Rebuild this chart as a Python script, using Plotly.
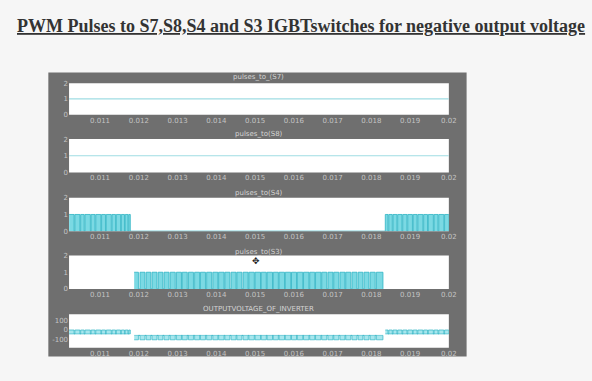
import plotly.graph_objects as go

# ---- data -------------------------------------------------------------
x_ticks = [0.011, 0.012, 0.013, 0.014, 0.015, 0.016, 0.017, 0.018, 0.019, 0.02]
x_tick_text = ["0.011", "0.012", "0.013", "0.014", "0.015", "0.016", "0.017", "0.018", "0.019", "0.02"]
t_start, t_end = 0.0102, 0.02

panel_titles = ["pulses_to_(S7)", "pulses_to(S8)", "pulses_to(S4)", "pulses_to(S3)",
                "OUTPUTVOLTAGE_OF_INVERTER"]

# S7 and S8 stay on for the whole window
s7_level = [1, 1]
s8_level = [1, 1]

# S4 gate pulses (rising / falling edge times)
s4_rise = [0.01020, 0.01035, 0.01050, 0.01061, 0.01077, 0.01089, 0.01104, 0.01116, 0.01131,
           0.01142, 0.01155, 0.01165, 0.01174,
           0.01836, 0.01845, 0.01856, 0.01868, 0.01881, 0.01894, 0.01908, 0.01920, 0.01935,
           0.01947, 0.01962, 0.01974, 0.01989]
s4_fall = [0.01033, 0.01048, 0.01059, 0.01075, 0.01087, 0.01102, 0.01114, 0.01129, 0.01140,
           0.01153, 0.01163, 0.01172, 0.01178,
           0.01843, 0.01854, 0.01866, 0.01879, 0.01892, 0.01906, 0.01918, 0.01933, 0.01945,
           0.01960, 0.01972, 0.01987, 0.02000]

# S3 gate pulses (rising / falling edge times)
s3_rise = [0.01188, 0.01203, 0.01219, 0.01234, 0.01250, 0.01265, 0.01281, 0.01297, 0.01312,
           0.01328, 0.01344, 0.01359, 0.01375, 0.01391, 0.01406, 0.01422, 0.01438, 0.01453,
           0.01469, 0.01484, 0.01500, 0.01516, 0.01531, 0.01547, 0.01562, 0.01578, 0.01594,
           0.01609, 0.01625, 0.01641, 0.01656, 0.01672, 0.01688, 0.01703, 0.01719, 0.01734,
           0.01750, 0.01766, 0.01781, 0.01797, 0.01813]
s3_fall = [0.01199, 0.01216, 0.01231, 0.01247, 0.01262, 0.01278, 0.01294, 0.01310, 0.01325,
           0.01341, 0.01357, 0.01372, 0.01388, 0.01404, 0.01420, 0.01435, 0.01451, 0.01466,
           0.01482, 0.01498, 0.01514, 0.01529, 0.01545, 0.01560, 0.01576, 0.01592, 0.01607,
           0.01623, 0.01639, 0.01654, 0.01670, 0.01685, 0.01701, 0.01716, 0.01732, 0.01747,
           0.01763, 0.01778, 0.01794, 0.01810, 0.01830]

# inverter output levels (V) while S4 / S3 are switching
vout_s4_high, vout_s4_low = 0, -40
vout_s3_high, vout_s3_low = -100, -55
vout_ticks = [100, 0, -100]
vout_tick_text = ["100", "0", "-100"]

# ---- layout helpers ---------------------------------------------------
W, H = 592, 381
PLOT_L, PLOT_R = 70, 455
ROWS = [(81, 113), (138, 172), (198, 232), (257, 291), (317, 351)]
TITLE_Y = [75, 133, 193, 253, 312]

CYAN_LINE = "#2fb4c4"
CYAN_FILL = "rgba(100,210,222,0.85)"
BAND_FILL = "rgba(130,220,230,0.7)"
LIGHT_LINE = "#9fdde3"
TICK_COL = "#c4c4c4"


def py(px):
    return 1 - px / H


def pulse_path(rise, fall, hi, lo):
    xs, ys = [], []
    for r, f in zip(rise, fall):
        xs += [r, f]
        ys += [hi, lo]
    return xs, ys


fig = go.Figure()

# S7, S8 constant lines
fig.add_trace(go.Scatter(x=[t_start, t_end], y=s7_level, mode="lines",
                         line=dict(color=LIGHT_LINE, width=1.2), xaxis="x", yaxis="y"))
fig.add_trace(go.Scatter(x=[t_start, t_end], y=s8_level, mode="lines",
                         line=dict(color=LIGHT_LINE, width=1.2), xaxis="x2", yaxis="y2"))

# S4, S3 pulse trains
for rise, fall, ax in [(s4_rise, s4_fall, "3"), (s3_rise, s3_fall, "4")]:
    xs, ys = pulse_path(rise, fall, 1, 0)
    fig.add_trace(go.Scatter(x=xs, y=ys, mode="lines", line_shape="hv",
                             line=dict(color=CYAN_LINE, width=0.8),
                             fill="tozeroy", fillcolor=CYAN_FILL,
                             xaxis="x" + ax, yaxis="y" + ax))

# output voltage: three switching bands
n_a = 13
segments = [
    (s4_rise[:n_a], s4_fall[:n_a], vout_s4_high, vout_s4_low),
    (s3_rise, s3_fall, vout_s3_high, vout_s3_low),
    (s4_rise[n_a:], s4_fall[n_a:], vout_s4_high, vout_s4_low),
]
for rise, fall, hi, lo in segments:
    fig.add_trace(go.Scatter(x=[rise[0], fall[-1]], y=[lo, lo], mode="lines",
                             line=dict(color=CYAN_LINE, width=0.6),
                             xaxis="x5", yaxis="y5"))
    xs, ys = pulse_path(rise, fall, hi, lo)
    fig.add_trace(go.Scatter(x=xs, y=ys, mode="lines", line_shape="hv",
                             line=dict(color=CYAN_LINE, width=0.7),
                             fill="tonexty", fillcolor=BAND_FILL,
                             xaxis="x5", yaxis="y5"))

shapes = [dict(type="rect", xref="paper", yref="paper", layer="below",
               x0=49 / W, x1=473 / W, y0=py(360), y1=py(70),
               fillcolor="#6f6f6f", line=dict(width=0))]
annotations = []

for i, (top, bot) in enumerate(ROWS, start=1):
    sfx = "" if i == 1 else str(i)
    fig.layout["xaxis" + sfx] = dict(
        domain=[PLOT_L / W, PLOT_R / W], range=[t_start, t_end], anchor="y" + sfx,
        tickvals=x_ticks, ticktext=x_tick_text, showgrid=False, zeroline=False,
        showline=False, ticks="", ticklen=0,
        tickfont=dict(family="DejaVu Sans", size=7, color=TICK_COL))
    if i < 5:
        yax = dict(range=[0, 2], tickvals=[0, 1, 2], ticktext=["0", "1", "2"])
    else:
        yax = dict(range=[-180, 160], tickvals=vout_ticks, ticktext=vout_tick_text)
    yax.update(domain=[py(bot), py(top)], anchor="x" + sfx, showgrid=False,
               zeroline=False, showline=False, ticks="", ticklen=0,
               tickfont=dict(family="DejaVu Sans", size=7, color=TICK_COL))
    fig.layout["yaxis" + sfx] = yax
    shapes.append(dict(type="rect", xref=f"x{sfx} domain", yref=f"y{sfx} domain",
                       layer="below", x0=0, x1=1, y0=0, y1=1,
                       fillcolor="white", line=dict(width=0)))
    annotations.append(dict(text=panel_titles[i - 1], xref="paper", yref="paper",
                            x=(PLOT_L + PLOT_R) / 2 / W, y=py(TITLE_Y[i - 1]),
                            showarrow=False, xanchor="center", yanchor="middle",
                            font=dict(family="DejaVu Sans", size=7, color="#d4d4d4")))

annotations.append(dict(
    text="<b><u>PWM Pulses to S7,S8,S4 and S3 IGBTswitches for negative output voltage</u></b>",
    xref="paper", yref="paper", x=305 / W, y=py(22), showarrow=False,
    xanchor="center", yanchor="middle",
    font=dict(family="Liberation Serif", size=18, color="#333333")))
annotations.append(dict(text="✥", xref="paper", yref="paper", x=259 / W, y=py(269),
                        showarrow=False, borderpad=0,
                        font=dict(family="DejaVu Sans", size=9, color="#222222")))

fig.update_layout(width=W, height=H, margin=dict(l=0, r=0, t=0, b=0),
                  paper_bgcolor="#f6f6f6", plot_bgcolor="rgba(0,0,0,0)",
                  showlegend=False, shapes=shapes, annotations=annotations)

fig.write_html("out.html")
